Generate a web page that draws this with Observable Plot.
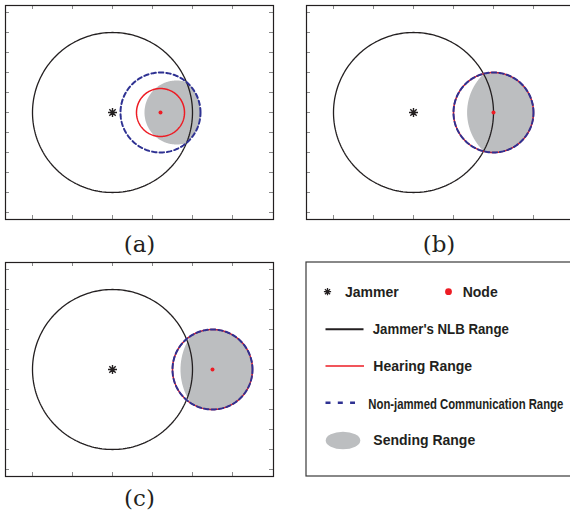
<!DOCTYPE html>
<html>
<head>
<meta charset="utf-8">
<script src="https://cdn.jsdelivr.net/npm/d3@7"></script>
<script src="https://cdn.jsdelivr.net/npm/@observablehq/plot@0.6"></script>
<style>
  html, body { margin: 0; padding: 0; background: #fff; }
  body { position: relative; width: 570px; height: 517px; overflow: hidden; }
  .panel { position: absolute; width: 278px; height: 224px; }
  .panel svg { max-width: none !important; display: block; }
  #overlay { position: absolute; left: 0; top: 0; pointer-events: none; }
</style>
</head>
<body>
<div id="pa" class="panel" style="left:0px;top:0px"></div>
<div id="pb" class="panel" style="left:301px;top:0px"></div>
<div id="pc" class="panel" style="left:0px;top:257px"></div>
<svg id="overlay" width="570" height="517"></svg>
<script>
// ---------- data (units: jammer at origin, NLB radius 2) ----------
const panelLabels = ["(a)", "(b)", "(c)"];
const jammerX = 0, jammerY = 0;
const nlbRadius = 2;
const nodeX = [1.2, 2.0, 2.5];
const hearingR = [0.6, 1.0, 1.0];
const commR = [1.0, 1.0, 1.0];
const sendCX = [1.6, 2.67, 3.2];
const sendR = [0.8, 1.33, 1.5];
const xTicks = [-2, -1, 0, 1, 2, 3];
const yTicks = [-2.5, -2, -1.5, -1, -0.5, 0, 0.5, 1, 1.5, 2, 2.5];
const legendLabels = ["Jammer", "Node", "Jammer's NLB Range", "Hearing Range", "Non-jammed Communication Range", "Sending Range"];

// ---------- styles ----------
const BLACK = "#231f20", RED = "#ed1c24", BLUE = "#2e3192", GRAY = "#bcbec0", TICK = "#8a8a8a";

function circle(cx, cy, r, n = 240) {
  return d3.range(n).map(i => {
    const a = 2 * Math.PI * i / n;
    return {x: cx + r * Math.cos(a), y: cy + r * Math.sin(a)};
  });
}
function ray(px, py, ux, uy, cx, cy, r) {
  const dx = px - cx, dy = py - cy;
  const b = dx * ux + dy * uy, c = dx * dx + dy * dy - r * r;
  return -b + Math.sqrt(Math.max(0, b * b - c));
}
function lens(c1, r1, c2, r2, n = 360) {
  const left = Math.max(c1 - r1, c2 - r2), right = Math.min(c1 + r1, c2 + r2);
  const px = (left + right) / 2, py = 0;
  return d3.range(n).map(i => {
    const a = 2 * Math.PI * i / n, ux = Math.cos(a), uy = Math.sin(a);
    const t = Math.min(ray(px, py, ux, uy, c1, 0, r1), ray(px, py, ux, uy, c2, 0, r2));
    return {x: px + t * ux, y: py + t * uy};
  });
}
const asterisk = {
  draw(ctx, size) {
    const r = Math.sqrt(size / Math.PI);
    const d = r * Math.SQRT1_2;
    ctx.moveTo(-r, 0); ctx.lineTo(r, 0);
    ctx.moveTo(0, -r); ctx.lineTo(0, r);
    ctx.moveTo(-d, -d); ctx.lineTo(d, d);
    ctx.moveTo(-d, d); ctx.lineTo(d, -d);
  }
};

function panel(i) {
  const tickLen = 4;
  const innerW = 268, innerH = 214;
  return Plot.plot({
    width: innerW + 10, height: innerH + 10,
    marginLeft: 5, marginRight: 5, marginTop: 5, marginBottom: 5,
    x: {domain: [-2.675, 4.025], axis: null},
    y: {domain: [-2.675, 2.675], axis: null},
    style: {background: "none", overflow: "visible", maxWidth: "none"},
    marks: [
      Plot.line(lens(nodeX[i], commR[i], sendCX[i], sendR[i]), {x: "x", y: "y", fill: GRAY, stroke: "none", curve: "linear-closed"}),
      Plot.line(circle(jammerX, jammerY, nlbRadius), {x: "x", y: "y", stroke: BLACK, strokeWidth: 1.3, curve: "linear-closed"}),
      Plot.line(circle(nodeX[i], 0, hearingR[i]), {x: "x", y: "y", stroke: RED, strokeWidth: 1.5, curve: "linear-closed"}),
      Plot.line(circle(nodeX[i], 0, commR[i]), {x: "x", y: "y", stroke: BLUE, strokeWidth: 2, strokeDasharray: "4.5,3", curve: "linear-closed"}),
      Plot.dot([{x: jammerX, y: jammerY}], {x: "x", y: "y", symbol: asterisk, r: 4.5, stroke: BLACK, strokeWidth: 1.4, fill: "none"}),
      Plot.dot([{x: nodeX[i], y: 0}], {x: "x", y: "y", r: 2, fill: RED, stroke: "none"}),
      Plot.tickX(xTicks, {x: d => d, insetTop: innerH - tickLen, stroke: TICK}),
      Plot.tickX(xTicks, {x: d => d, insetBottom: innerH - tickLen, stroke: TICK}),
      Plot.tickY(yTicks, {y: d => d, insetRight: innerW - tickLen, stroke: TICK}),
      Plot.tickY(yTicks, {y: d => d, insetLeft: innerW - tickLen, stroke: TICK}),
      Plot.frame({stroke: BLACK, strokeWidth: 1.2})
    ]
  });
}
document.getElementById("pa").append(panel(0));
document.getElementById("pb").append(panel(1));
document.getElementById("pc").append(panel(2));

// ---------- labels & legend ----------
const svg = d3.select("#overlay");
const labelPos = [[139.5, 251.5], [439, 251.5], [139.5, 506]];
panelLabels.forEach((t, i) => {
  svg.append("text").attr("x", labelPos[i][0]).attr("y", labelPos[i][1])
    .attr("text-anchor", "middle").attr("font-family", "'DejaVu Serif', serif")
    .attr("font-size", 23).attr("fill", BLACK).text(t);
});
svg.append("rect").attr("x", 306).attr("y", 262).attr("width", 290).attr("height", 214)
  .attr("fill", "none").attr("stroke", "#3a3a3a").attr("stroke-width", 1.2);
// symbols
const ax = 327.5, ay = 291.7, ar = 3.6, ad = ar * Math.SQRT1_2;
svg.append("path").attr("d", `M${ax-ar},${ay}H${ax+ar}M${ax},${ay-ar}V${ay+ar}M${ax-ad},${ay-ad}L${ax+ad},${ay+ad}M${ax-ad},${ay+ad}L${ax+ad},${ay-ad}`)
  .attr("stroke", BLACK).attr("stroke-width", 1.3);
svg.append("circle").attr("cx", 448.5).attr("cy", 291.7).attr("r", 3.4).attr("fill", RED);
svg.append("line").attr("x1", 325.5).attr("x2", 363.5).attr("y1", 329.3).attr("y2", 329.3).attr("stroke", BLACK).attr("stroke-width", 2);
svg.append("line").attr("x1", 325.5).attr("x2", 364).attr("y1", 366).attr("y2", 366).attr("stroke", RED).attr("stroke-width", 1.6);
svg.append("line").attr("x1", 325.5).attr("x2", 355).attr("y1", 402.7).attr("y2", 402.7).attr("stroke", BLUE).attr("stroke-width", 2.4).attr("stroke-dasharray", "5,7.3");
svg.append("ellipse").attr("cx", 343).attr("cy", 440.5).attr("rx", 17.3).attr("ry", 8.8).attr("fill", GRAY);
// texts (sx = horizontal condensing of the original's narrow lettering)
const legendText = [
  {t: legendLabels[0], x: 345, y: 296.7, sx: 1},
  {t: legendLabels[1], x: 462.7, y: 296.7, sx: 1},
  {t: legendLabels[2], x: 372.7, y: 334.2, sx: 0.945},
  {t: legendLabels[3], x: 373.3, y: 370.8, sx: 1},
  {t: legendLabels[4], x: 368.3, y: 409.2, sx: 0.81},
  {t: legendLabels[5], x: 373.3, y: 444.5, sx: 1}
];
legendText.forEach(d => {
  svg.append("text").attr("x", 0).attr("y", 0)
    .attr("transform", `translate(${d.x},${d.y}) scale(${d.sx},1)`)
    .attr("font-family", "'Liberation Sans', Arial, sans-serif").attr("font-weight", "bold")
    .attr("font-size", 14).attr("fill", BLACK).text(d.t);
});
</script>
</body>
</html>
